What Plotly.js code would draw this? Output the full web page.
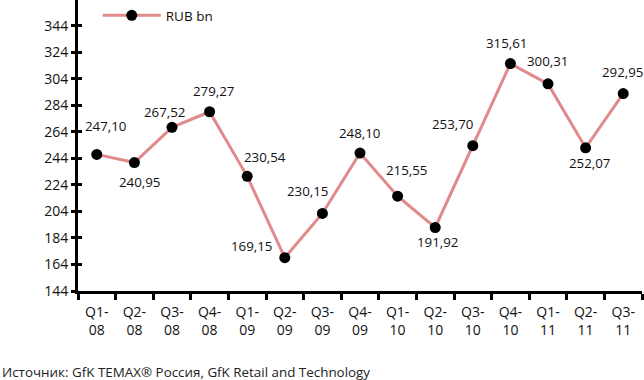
<!DOCTYPE html>
<html>
<head>
<meta charset="utf-8">
<script src="https://cdn.plot.ly/plotly-3.0.1.min.js"></script>
<style>html,body{margin:0;padding:0;background:#fff;}#chart{width:644px;height:380px;}</style>
</head>
<body>
<div id="chart"></div>
<script>
// Data
const quarters = ["Q1-08","Q2-08","Q3-08","Q4-08","Q1-09","Q2-09","Q3-09","Q4-09","Q1-10","Q2-10","Q3-10","Q4-10","Q1-11","Q2-11","Q3-11"];
const tickLabels = ["Q1-<br>08","Q2-<br>08","Q3-<br>08","Q4-<br>08","Q1-<br>09","Q2-<br>09","Q3-<br>09","Q4-<br>09","Q1-<br>10","Q2-<br>10","Q3-<br>10","Q4-<br>10","Q1-<br>11","Q2-<br>11","Q3-<br>11"];
// plotted positions
const rubBn = [247.10, 240.95, 267.52, 279.27, 230.54, 169.15, 202.5, 248.10, 215.55, 191.92, 253.70, 315.61, 300.31, 252.07, 292.95];
// printed value labels
const valueLabels = ["247,10","240,95","267,52","279,27","230,54","169,15","230,15","248,10","215,55","191,92","253,70","315,61","300,31","252,07","292,95"];
const yTicks = [144,164,184,204,224,244,264,284,304,324,344];
const seriesName = "RUB bn";
const sourceText = "Источник: GfK TEMAX® Россия, GfK Retail and Technology";

// label offsets (style, px): [dx, dy] with dy downward
const labelOffsets = [[9,-28],[5,19],[-8,-15],[4,-21],[18,-19],[-33,-12],[-15,-22],[-1,-20],[9,-26],[2,14],[-20,-22],[-4,-21],[-1,-23],[4,15],[-1,-22]];

const font = "'Open Sans', sans-serif";
const annotations = quarters.map((q, i) => ({
  x: q, y: rubBn[i], xref: 'x', yref: 'y', text: valueLabels[i], showarrow: false,
  xshift: labelOffsets[i][0], yshift: -labelOffsets[i][1],
  font: {family: font, size: 13.3, color: '#111'}
}));
annotations.push({
  x: -78/564, y: -(372-291)/291, xref: 'paper', yref: 'paper', text: sourceText, showarrow: false,
  xanchor: 'left', yanchor: 'middle', font: {family: font, size: 13.4, color: '#222'}
});

const trace = {
  x: quarters, y: rubBn, type: 'scatter', mode: 'lines+markers', name: seriesName,
  line: {color: '#E08A8C', width: 3},
  marker: {color: '#000', size: 11},
  cliponaxis: false
};
// invisible trace to carry inner half of the y ticks
const ghost = {x: [quarters[0]], y: [rubBn[0]], yaxis: 'y2', mode: 'markers', marker: {opacity: 0}, showlegend: false, hoverinfo: 'skip'};

const layout = {
  width: 644, height: 380,
  margin: {l: 78, r: 2, t: 0, b: 89},
  paper_bgcolor: '#fff', plot_bgcolor: '#fff',
  font: {family: font, size: 13, color: '#111'},
  showlegend: true,
  legend: {x: 0.035, y: 1.0, xanchor: 'left', yanchor: 'top', bgcolor: 'rgba(0,0,0,0)', font: {family: font, size: 13.5, color: '#111'}, itemwidth: 58},
  xaxis: {
    type: 'category', range: [-0.5, 14.5], tickmode: 'array', tickvals: quarters, ticktext: tickLabels,
    tickson: 'boundaries', ticks: 'outside', ticklen: 6, tickwidth: 3, tickcolor: '#000',
    showline: true, linecolor: '#000', linewidth: 3, showgrid: false, zeroline: false,
    ticklabelstandoff: 6,
    tickfont: {family: font, size: 14, color: '#111'}
  },
  yaxis: {
    range: [144, 363.6], tickmode: 'array', tickvals: yTicks, ticks: 'outside', ticklen: 4, tickwidth: 3, tickcolor: '#000',
    showline: true, linecolor: '#000', linewidth: 3, showgrid: false, zeroline: false,
    tickfont: {family: font, size: 14, color: '#111'}
  },
  yaxis2: {
    overlaying: 'y', side: 'left', range: [144, 363.6], tickmode: 'array', tickvals: yTicks, ticks: 'inside', ticklen: 4, tickwidth: 3, tickcolor: '#000',
    showticklabels: false, showline: false, showgrid: false, zeroline: false
  },
  annotations: annotations
};

Plotly.newPlot('chart', [trace, ghost], layout, {displayModeBar: false, staticPlot: true});
</script>
</body>
</html>
